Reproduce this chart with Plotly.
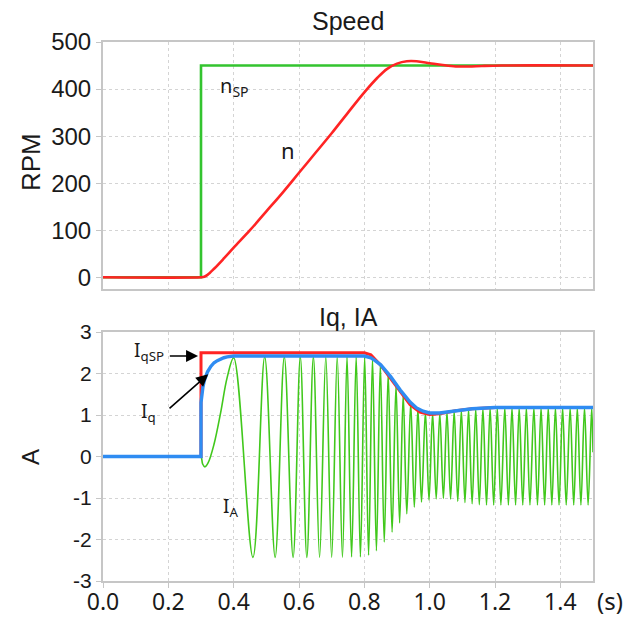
import plotly.graph_objects as go

# ---------------- data ----------------
# Speed plot
t_nsp = [0.0, 0.3, 0.3, 1.5]
nsp = [0, 0, 450, 450]

t_n = [0.0, 0.30, 0.31, 0.32, 0.34, 0.37, 0.40, 0.45, 0.50, 0.55, 0.60, 0.65, 0.70,
       0.75, 0.80, 0.84, 0.87, 0.90, 0.93, 0.96, 1.00, 1.04, 1.08, 1.12, 1.16, 1.22, 1.5]
n = [0, 0, 1, 5, 18, 40, 63, 100, 140, 180, 222, 264, 306,
     350, 393, 424, 443, 454, 459, 459, 455, 451, 448, 448, 449, 450, 450]

# Current plot
t_iqsp = [0.0, 0.3, 0.3, 0.80, 0.82, 0.85, 0.88, 0.91, 0.94, 0.97, 1.00, 1.03, 1.08, 1.13, 1.20, 1.5]
iqsp = [0, 0, 2.5, 2.5, 2.45, 2.20, 1.88, 1.55, 1.25, 1.07, 1.01, 1.03, 1.10, 1.15, 1.18, 1.18]

t_iq = [0.0, 0.3, 0.3, 0.303, 0.306, 0.31, 0.315, 0.32, 0.33, 0.34, 0.35, 0.36, 0.37, 0.38,
        0.39, 0.40, 0.80, 0.81, 0.82, 0.83, 0.85, 0.88, 0.91, 0.94, 0.96, 0.98, 1.00,
        1.03, 1.08, 1.13, 1.20, 1.5]
iq = [0, 0, 1.30, 1.52, 1.68, 1.83, 1.95, 2.04, 2.17, 2.26, 2.31, 2.35, 2.38, 2.40,
      2.41, 2.42, 2.42, 2.41, 2.38, 2.33, 2.21, 1.93, 1.60, 1.31, 1.17, 1.09, 1.05,
      1.05, 1.10, 1.15, 1.18, 1.18]

# phase current: turning points of the waveform
t_ia = [0.0, 0.295, 0.300, 0.305, 0.312, 0.322, 0.340, 0.360, 0.380, 0.400,
        0.459, 0.495, 0.527, 0.555, 0.582, 0.604, 0.624, 0.644, 0.663, 0.682,
        0.700, 0.717, 0.733, 0.747, 0.761, 0.775, 0.788, 0.801, 0.813, 0.825,
        0.837, 0.849, 0.861, 0.873, 0.885, 0.897, 0.908, 0.919, 0.930, 0.942,
        0.953, 0.964, 0.975, 0.987, 0.998, 1.009, 1.020, 1.031, 1.042, 1.053,
        1.064, 1.075, 1.086, 1.097, 1.108, 1.119, 1.130, 1.141, 1.152, 1.163,
        1.174, 1.185, 1.196, 1.207, 1.218, 1.230, 1.241, 1.252, 1.263, 1.274,
        1.285, 1.296, 1.307, 1.319, 1.330, 1.341, 1.352, 1.363, 1.374, 1.385,
        1.396, 1.407, 1.418, 1.430, 1.441, 1.452, 1.463, 1.474, 1.485, 1.496, 1.500]
ia = [0.0, 0.0, 0.0, -0.18, -0.25, -0.15, 0.30, 1.05, 1.90, 2.38,
      -2.43, 2.40, -2.43, 2.40, -2.43, 2.40, -2.43, 2.40, -2.43, 2.40,
      -2.43, 2.40, -2.43, 2.40, -2.42, 2.40, -2.42, 2.40, -2.38, 2.36,
      -2.27, 2.22, -2.06, 2.00, -1.82, 1.72, -1.60, 1.50, -1.38, 1.30,
      -1.22, 1.16, -1.10, 1.08, -1.05, 1.05, -1.02, 1.05, -1.01, 1.08,
      -1.03, 1.10, -1.08, 1.12, -1.11, 1.14, -1.14, 1.15, -1.16, 1.17,
      -1.17, 1.18, -1.17, 1.18, -1.17, 1.18, -1.17, 1.18, -1.17, 1.18,
      -1.17, 1.18, -1.17, 1.18, -1.17, 1.18, -1.17, 1.18, -1.17, 1.18,
      -1.17, 1.18, -1.17, 1.18, -1.17, 1.18, -1.17, 1.18, -1.17, 1.18, 0.1]

x_ticks = [0.0, 0.2, 0.4, 0.6, 0.8, 1.0, 1.2, 1.4]
x_tick_text = ["0.0", "0.2", "0.4", "0.6", "0.8", "1.0", "1.2", "1.4"]
rpm_ticks = [0, 100, 200, 300, 400, 500]
rpm_tick_text = ["0", "100", "200", "300", "400", "500"]
amp_ticks = [-3, -2, -1, 0, 1, 2, 3]
amp_tick_text = ["-3", "-2", "-1", "0", "1", "2", "3"]

# ---------------- figure ----------------
W, H = 643, 617
L, R = 103, 593
def px_x(v):
    return v / W
def px_y(v):
    return 1 - v / H

GREEN = "#33c42f"
RED = "#ff2424"
BLUE = "#2f8cf2"
IA_GREEN = "#41c81c"
BORDER = "#c6c6c6"
GRID = "#d4d4d4"
TXT = "#1a1a1a"

fig = go.Figure()
fig.add_trace(go.Scatter(x=t_nsp, y=nsp, mode="lines", line=dict(color=GREEN, width=2.6),
                         xaxis="x", yaxis="y", showlegend=False))
fig.add_trace(go.Scatter(x=t_n, y=n, mode="lines", line=dict(color=RED, width=2.6, shape="spline"),
                         xaxis="x", yaxis="y", showlegend=False))
fig.add_trace(go.Scatter(x=t_ia, y=ia, mode="lines", line=dict(color=IA_GREEN, width=1.6, shape="spline"),
                         xaxis="x2", yaxis="y2", showlegend=False))
fig.add_trace(go.Scatter(x=t_iqsp, y=iqsp, mode="lines", line=dict(color=RED, width=3),
                         xaxis="x2", yaxis="y2", showlegend=False))
fig.add_trace(go.Scatter(x=t_iq, y=iq, mode="lines", line=dict(color=BLUE, width=3.4),
                         xaxis="x2", yaxis="y2", showlegend=False))

xdom = [px_x(L), px_x(R)]
common_axis = dict(showline=True, mirror=True, linecolor=BORDER, linewidth=2,
                   showgrid=True, gridcolor=GRID, griddash="dot", gridwidth=1,
                   zeroline=False, tickcolor=BORDER, ticklen=5, automargin=False)

fig.update_layout(
    template="plotly_white",
    width=W, height=H,
    margin=dict(l=0, r=0, t=0, b=0, autoexpand=False),
    paper_bgcolor="white", plot_bgcolor="white",
    xaxis=dict(domain=xdom, anchor="y", range=[0, 1.5], tickvals=x_ticks,
               showticklabels=False, ticks="", **common_axis),
    yaxis=dict(domain=[px_y(289), px_y(42)], anchor="x", range=[-25, 500], tickvals=rpm_ticks,
               ticktext=rpm_tick_text,
               ticks="outside", tickfont=dict(family="Liberation Sans, Arial", size=24, color=TXT),
               **common_axis),
    xaxis2=dict(domain=xdom, anchor="y2", range=[0, 1.5], tickvals=x_ticks, ticktext=x_tick_text,
                ticks="outside", ticklabelstandoff=-6,
                tickfont=dict(family="Noto Sans, Open Sans", size=23, color=TXT),
                **common_axis),
    yaxis2=dict(domain=[px_y(581), px_y(332)], anchor="x2", range=[-3, 3], tickvals=amp_ticks,
                ticktext=amp_tick_text,
                ticks="outside", tickfont=dict(family="Liberation Sans, Arial", size=21, color=TXT),
                **common_axis),
)

title_font = dict(family="Liberation Sans, Arial", size=25, color=TXT)
label_font = dict(family="Noto Sans, Open Sans", size=19, color=TXT)
annots = [
    dict(text="Speed", x=(L + R) / 2 / W, y=px_y(21), xref="paper", yref="paper",
         showarrow=False, font=title_font, xanchor="center", yanchor="middle"),
    dict(text="Iq, IA", x=(L + R) / 2 / W, y=px_y(317), xref="paper", yref="paper",
         showarrow=False, font=title_font, xanchor="center", yanchor="middle"),
    dict(text="RPM", x=px_x(31), y=px_y(162), xref="paper", yref="paper", textangle=-90,
         showarrow=False, font=dict(family="Liberation Sans, Arial", size=26, color=TXT),
         xanchor="center", yanchor="middle"),
    dict(text="A", x=px_x(31), y=px_y(457), xref="paper", yref="paper", textangle=-90,
         showarrow=False, font=dict(family="Liberation Sans, Arial", size=24, color=TXT),
         xanchor="center", yanchor="middle"),
    dict(text="(s)", x=px_x(610), y=px_y(600), xref="paper", yref="paper",
         showarrow=False, font=dict(family="Noto Sans, Open Sans", size=24, color=TXT),
         xanchor="center", yanchor="middle"),
    dict(text="n<sub>SP</sub>", x=0.352, y=406, xref="x", yref="y", showarrow=False,
         font=dict(family="Noto Sans, Open Sans", size=20, color=TXT), xanchor="left", yanchor="middle"),
    dict(text="n", x=0.567, y=270, xref="x", yref="y", showarrow=False,
         font=dict(family="Noto Sans, Open Sans", size=22, color=TXT), xanchor="center", yanchor="middle"),
    dict(text="I<sub>qSP</sub>", x=0.141, y=2.55, xref="x2", yref="y2", showarrow=False,
         font=label_font, xanchor="center", yanchor="middle"),
    dict(text="I<sub>q</sub>", x=0.139, y=1.08, xref="x2", yref="y2", showarrow=False,
         font=label_font, xanchor="center", yanchor="middle"),
    dict(text="I<sub>A</sub>", x=0.389, y=-1.22, xref="x2", yref="y2", showarrow=False,
         font=label_font, xanchor="center", yanchor="middle"),
    dict(text="", x=0.291, y=2.42, xref="x2", yref="y2", ax=0.200, ay=2.42,
         axref="x2", ayref="y2", showarrow=True, arrowhead=2, arrowsize=1.5,
         arrowwidth=1.6, arrowcolor="black"),
    dict(text="", x=0.322, y=1.98, xref="x2", yref="y2", ax=0.199, ay=1.13,
         axref="x2", ayref="y2", showarrow=True, arrowhead=2, arrowsize=1.5,
         arrowwidth=1.6, arrowcolor="black"),
]
fig.update_layout(annotations=annots)

fig.write_html("out.html", config={"displayModeBar": False},
               post_script="document.body.style.margin='0px';")
